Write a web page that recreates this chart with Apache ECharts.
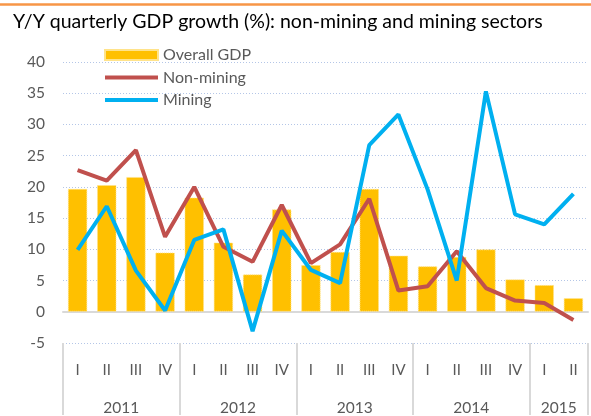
<!DOCTYPE html>
<html>
<head>
<meta charset="utf-8">
<script src="https://cdn.jsdelivr.net/npm/echarts@6/dist/echarts.min.js"></script>
<style>
html, body { margin: 0; padding: 0; background: #fff; }
#chart { width: 591px; height: 416px; }
</style>
</head>
<body>
<div id="chart"></div>
<script>
// data
const years = ['2011', '2012', '2013', '2014', '2015'];
const quarters = ['I', 'II', 'III', 'IV', 'I', 'II', 'III', 'IV', 'I', 'II', 'III', 'IV', 'I', 'II', 'III', 'IV', 'I', 'II'];
const overallGdp = [19.7, 20.3, 21.6, 9.5, 18.3, 11.1, 6.0, 16.4, 7.5, 9.6, 19.7, 9.0, 7.3, 8.8, 10.0, 5.2, 4.3, 2.2];
const nonMining = [22.7, 21.0, 25.9, 12.0, 20.0, 10.4, 8.0, 17.1, 7.8, 10.8, 18.1, 3.4, 4.1, 9.7, 3.8, 1.8, 1.4, -1.3];
const mining = [9.9, 16.9, 6.6, 0.2, 11.5, 13.2, -3.1, 13.0, 6.7, 4.6, 26.7, 31.6, 19.6, 5.0, 35.3, 15.6, 14.0, 18.9];
const yMin = -5, yMax = 40, yStep = 5;

// category keys: "2011 I", ... (year = every 4 quarters)
const categories = quarters.map((q, i) => years[Math.floor(i / 4)] + ' ' + q);

// centre of every year group, for the year labels
const yearCentres = {};
years.forEach((y, k) => {
	let n = categories.filter(c => c.startsWith(y + ' ')).length;
	yearCentres[k * 4 + n / 2] = y;
});

const textColor = '#595959';
const font = 'Lato';

let myChart = echarts.init(document.getElementById('chart'));

let option = {
	textStyle: { fontFamily: font },
	color: ['#FFC000', '#C0504D', '#00B0F0'],
	title: {
		text: 'Y/Y quarterly GDP growth (%): non-mining and mining sectors',
		left: 8,
		top: 7,
		textStyle: { fontFamily: font, fontSize: 19.5, fontWeight: 'normal', color: '#000' }
	},
	graphic: [{
		type: 'rect',
		shape: { x: 0, y: 3.3, width: 591, height: 2.4 },
		style: { fill: '#F79646' }
	}],
	legend: {
		orient: 'vertical',
		left: 98,
		top: 42,
		itemWidth: 53,
		itemHeight: 10,
		itemGap: 6.5,
		textStyle: { fontFamily: font, fontSize: 16, color: textColor, lineHeight: 16 },
		data: [
			{ name: 'Overall GDP', icon: 'rect' },
			{ name: 'Non-mining', itemStyle: { opacity: 0 }, lineStyle: { width: 4 } },
			{ name: 'Mining', itemStyle: { opacity: 0 }, lineStyle: { width: 4 } }
		]
	},
	grid: {
		left: 63,
		top: 62,
		width: 535.5,
		height: 283.5
	},
	xAxis: [
		{
			// axis line at zero
			type: 'category',
			data: categories,
			position: 'bottom',
			axisLine: { onZero: true, lineStyle: { color: '#d9d9d9', width: 2 } },
			axisTick: { show: false },
			axisLabel: { show: false }
		},
		{
			// quarters + year separators
			type: 'category',
			data: categories,
			position: 'bottom',
			axisLine: { show: false, onZero: false },
			axisTick: {
				show: true,
				length: 72,
				interval: (i) => i % 4 === 0,
				lineStyle: { color: '#d9d9d9', width: 2 }
			},
			axisLabel: {
				interval: 0,
				margin: 20,
				fontSize: 15,
				color: textColor,
				fontFamily: font,
				formatter: v => v.split(' ')[1]
			}
		},
		{
			// years
			type: 'value',
			min: 0,
			max: categories.length,
			interval: 1,
			position: 'bottom',
			axisLine: { show: false, onZero: false },
			axisTick: { show: false },
			splitLine: { show: false },
			axisLabel: {
				margin: 57,
				fontSize: 15.5,
				color: textColor,
				fontFamily: font,
				formatter: v => yearCentres[v] || ''
			}
		}
	],
	yAxis: {
		type: 'value',
		min: yMin,
		max: yMax,
		interval: yStep,
		axisLine: { show: false },
		axisTick: { show: false },
		axisLabel: { margin: 18, fontSize: 15.5, color: textColor, fontFamily: font },
		splitLine: { lineStyle: { type: [1, 2], color: '#b4c6e7', width: 1 } }
	},
	series: [
		{
			name: 'Overall GDP',
			type: 'bar',
			xAxisIndex: 0,
			data: overallGdp,
			barCategoryGap: '33%',
			itemStyle: { color: '#FFC000', borderColor: '#FFE38A', borderWidth: 1, borderType: 'dotted' }
		},
		{
			name: 'Non-mining',
			type: 'line',
			xAxisIndex: 0,
			data: nonMining,
			symbol: 'none',
			lineStyle: { width: 4, color: '#C0504D' },
			z: 3
		},
		{
			name: 'Mining',
			type: 'line',
			xAxisIndex: 0,
			data: mining,
			symbol: 'none',
			lineStyle: { width: 4, color: '#00B0F0' },
			z: 4
		}
	]
};

myChart.setOption(option);
</script>
</body>
</html>
